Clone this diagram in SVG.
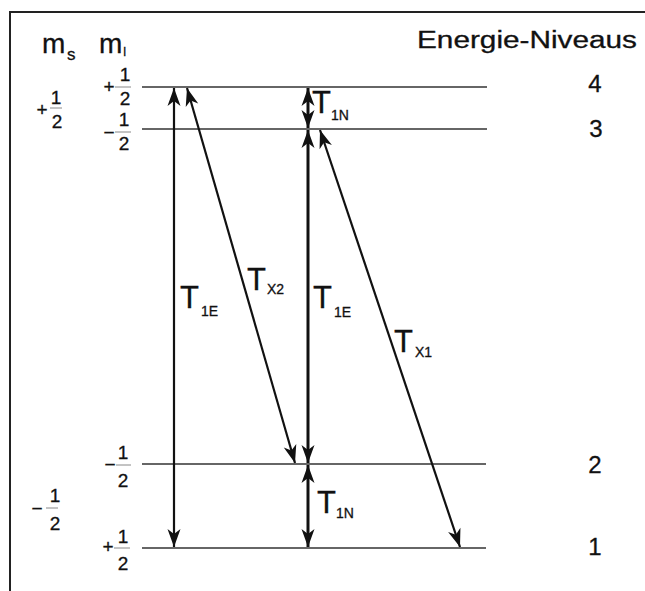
<svg xmlns="http://www.w3.org/2000/svg" width="645" height="591" viewBox="0 0 645 591">
<style>
text{font-family:"Liberation Sans",Arial,sans-serif;fill:#111;stroke:#111;stroke-width:0.3}
.lvl{stroke:#333;stroke-width:1.6}
.arr{stroke:#111;stroke-width:2.2;fill:none;marker-start:url(#ah);marker-end:url(#ah)}
.thick{stroke-width:3}
.bar{stroke:#888;stroke-width:1}
.frac{font-size:19px;text-anchor:middle}
.T{font-size:31px}
.sub{font-size:14px}
.num{font-size:24px;text-anchor:middle}
</style>
<defs>
<marker id="ah" viewBox="-19 -8 20 16" refX="0" refY="0" markerWidth="20" markerHeight="16" markerUnits="userSpaceOnUse" orient="auto-start-reverse">
<path d="M0,0 L-18,-6.5 L-13,0 L-18,6.5 Z" fill="#111"/>
</marker>
</defs>
<g id="frame" fill="none" stroke="#222" stroke-width="2">
<path d="M10,591 V12 H645"/>
</g>
<g id="header">
<text x="42" y="53" font-size="28">m</text><text x="67" y="60" font-size="17">s</text>
<text x="99" y="53" font-size="28">m</text><text x="123" y="56" font-size="12">I</text>
<text x="417" y="48" font-size="23" textLength="220" lengthAdjust="spacingAndGlyphs">Energie-Niveaus</text>
</g>
<g id="ms-values">
<text class="frac" x="42" y="116">+</text>
<text class="frac" x="56" y="104">1</text>
<line class="bar" x1="50" y1="108" x2="62" y2="108"/>
<text class="frac" x="57" y="128">2</text>
<text class="frac" x="37" y="515">−</text>
<text class="frac" x="55" y="502">1</text>
<line class="bar" x1="46" y1="508" x2="58" y2="508"/>
<text class="frac" x="55" y="530">2</text>
</g>
<g id="mi-values">
<text class="frac" x="109" y="93">+</text>
<text class="frac" x="125" y="81">1</text>
<line class="bar" x1="115" y1="87" x2="131" y2="87"/>
<text class="frac" x="125" y="105">2</text>
<text class="frac" x="109" y="139">−</text>
<text class="frac" x="124" y="126">1</text>
<line class="bar" x1="115" y1="132" x2="131" y2="132"/>
<text class="frac" x="124" y="150">2</text>
<text class="frac" x="110" y="471">−</text>
<text class="frac" x="123" y="459">1</text>
<line class="bar" x1="116" y1="465" x2="131" y2="465"/>
<text class="frac" x="123" y="487">2</text>
<text class="frac" x="108" y="553">+</text>
<text class="frac" x="123" y="543">1</text>
<line class="bar" x1="114" y1="548" x2="130" y2="548"/>
<text class="frac" x="123" y="570">2</text>
</g>
<g id="level4"><line class="lvl" x1="142" y1="87" x2="487" y2="87"/><text class="num" x="595" y="92">4</text></g>
<g id="level3"><line class="lvl" x1="142" y1="129" x2="487" y2="129"/><text class="num" x="596" y="137">3</text></g>
<g id="level2"><line class="lvl" x1="142" y1="464" x2="486" y2="464"/><text class="num" x="595" y="473" font-size="27">2</text></g>
<g id="level1"><line class="lvl" x1="142" y1="548" x2="486" y2="548"/><text class="num" x="595" y="555" font-size="27">1</text></g>
<g id="connectors">
<line class="arr" x1="174" y1="88" x2="174" y2="547"/>
<line class="arr" x1="187" y1="88" x2="295" y2="463"/>
<line class="arr thick" x1="308" y1="88" x2="308" y2="128"/>
<line class="arr thick" x1="308" y1="130" x2="308" y2="463"/>
<line class="arr thick" x1="308" y1="465" x2="308" y2="547"/>
<line class="arr" x1="320" y1="130" x2="460" y2="547"/>
</g>
<g id="labels">
<text class="T" x="312" y="113" font-size="29">T</text><text class="sub" x="331" y="120">1N</text>
<text class="T" x="180" y="308">T</text><text class="sub" x="201" y="316">1E</text>
<text class="T" x="247" y="290">T</text><text class="sub" x="267" y="294">X2</text>
<text class="T" x="313" y="308">T</text><text class="sub" x="334" y="317">1E</text>
<text class="T" x="394" y="352">T</text><text class="sub" x="415" y="357">X1</text>
<text class="T" x="317" y="513" font-size="29">T</text><text class="sub" x="336" y="518">1N</text>
</g>
</svg>
